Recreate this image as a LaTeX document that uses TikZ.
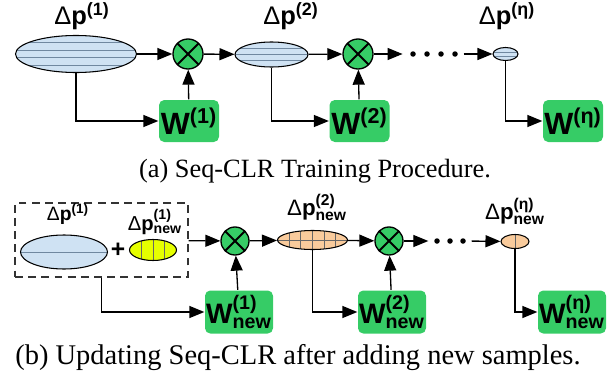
\documentclass[tikz,border=0pt]{standalone}
\usepackage{amsmath}
\usepackage{fontspec}
\setmainfont{Liberation Serif}
\setsansfont{Liberation Sans}
\usetikzlibrary{arrows.meta,shapes.geometric,calc}

\definecolor{blufill}{HTML}{CFE2F3}
\definecolor{stripe}{HTML}{7088A0}
\definecolor{wgreen}{HTML}{36CC66}
\definecolor{orfill}{HTML}{F9CB9C}
\definecolor{yelfill}{HTML}{E6FF00}

\begin{document}
\begin{tikzpicture}[>={Triangle[length=0.3cm,width=0.24cm]}, line width=0.75pt,
  every node/.style={font=\sffamily},
  blob/.style={ellipse, draw, line width=0.6pt, inner sep=0pt},
  hlines/.style={path picture={\foreach \k in {#1}
    \draw[stripe, line width=0.5pt]
      ($(path picture bounding box.north west)!\k!(path picture bounding box.south west)$) --
      ($(path picture bounding box.north east)!\k!(path picture bounding box.south east)$);}},
  vlines/.style={path picture={\foreach \k in {#1}
    \draw[black!60, line width=0.5pt]
      ($(path picture bounding box.north west)!\k!(path picture bounding box.north east)$) --
      ($(path picture bounding box.south west)!\k!(path picture bounding box.south east)$);}},
  grid/.style 2 args={path picture={\foreach \k in {#1}
    \draw[black!60, line width=0.5pt]
      ($(path picture bounding box.north west)!\k!(path picture bounding box.south west)$) --
      ($(path picture bounding box.north east)!\k!(path picture bounding box.south east)$);
    \foreach \k in {#2}
    \draw[black!60, line width=0.5pt]
      ($(path picture bounding box.north west)!\k!(path picture bounding box.north east)$) --
      ($(path picture bounding box.south west)!\k!(path picture bounding box.south east)$);}},
  mult/.style={circle, draw, fill=wgreen, minimum size=0.6cm, inner sep=0pt,
    path picture={\draw[line width=1.1pt] (path picture bounding box.north west) -- (path picture bounding box.south east)
      (path picture bounding box.north east) -- (path picture bounding box.south west);}},
  wbox/.style={rectangle, rounded corners=3pt, fill=wgreen, minimum width=1.2cm, minimum height=0.84cm,
    inner sep=0pt, font=\sffamily\bfseries\fontsize{17.5}{18}\selectfont},
  dotnode/.style={circle, fill, inner sep=0pt, minimum size=0.11cm}]
  \useasboundingbox (0,0) rectangle (12.18,-7.62);

  % training
  \node[blob, fill=blufill, hlines={0.2,0.4,0.6,0.8}, minimum width=2.42cm, minimum height=0.74cm] (P1) at (1.52,-1.08) {};
  \node[font=\sffamily\fontsize{14.5}{16}\selectfont] (LP1) at (1.64,-0.32) {Δ\textbf{p}$^{\textsf{\bfseries(1)}}$};
  \node[mult] (X1) at (3.76,-1.08) {};
  \node[wbox] (W1) at (3.78,-2.42) {W$^{\textsf{\bfseries(1)}}$};
  \node[blob, fill=blufill, hlines={0.25,0.5,0.75}, minimum width=1.46cm, minimum height=0.5cm] (P2) at (5.43,-1.09) {};
  \node[font=\sffamily\fontsize{14.5}{16}\selectfont] (LP2) at (5.82,-0.32) {Δ\textbf{p}$^{\textsf{\bfseries(2)}}$};
  \node[mult] (X2) at (7.16,-1.08) {};
  \node[wbox] (W2) at (7.19,-2.42) {W$^{\textsf{\bfseries(2)}}$};
  \foreach \i/\x in {1/8.26,2/8.54,3/8.82,4/9.10}
    \node[dotnode] (d\i) at (\x,-1.08) {};
  \node[blob, fill=blufill, hlines={0.35,0.65}, minimum width=0.5cm, minimum height=0.26cm] (Pn) at (10.11,-1.08) {};
  \node[font=\sffamily\fontsize{14.5}{16}\selectfont] (LPn) at (10.14,-0.32) {Δ\textbf{p}$^{\textsf{\bfseries(η)}}$};
  \node[wbox] (Wn) at (11.46,-2.42) {W$^{\textsf{\bfseries(η)}}$};

  \draw[->] (P1) -- (X1);
  \draw[->] (X1) -- (P2);
  \draw[->] (P2) -- (X2);
  \draw[->, shorten >=4pt] (X2) -- (d1);
  \draw[->, shorten <=3pt] (d4) -- (Pn);
  \draw[->] (W1) -- (X1);
  \draw[->] (W2) -- (X2);
  \draw[->] (P1) |- (W1);
  \draw[->] (P2) |- (W2);
  \draw[->] (Pn) |- (Wn);

  \node[font=\rmfamily\fontsize{15}{18}\selectfont] (capA) at (6.30,-3.42) {(a) Seq-CLR Training Procedure.};

  % updating
  \node[draw=black!80, dashed, dash pattern=on 4.5pt off 3pt, minimum width=3.46cm, minimum height=1.48cm] (Box) at (2.03,-4.80) {};
  \node[blob, fill=blufill, hlines={0.5}, minimum width=1.74cm, minimum height=0.68cm] (Q1) at (1.28,-5.04) {};
  \node[font=\sffamily\fontsize{11}{12}\selectfont] (LQ1) at (1.36,-4.28) {Δ\textbf{p}$^{\textsf{\bfseries(1)}}$};
  \node[font=\sffamily\bfseries\fontsize{14}{14}\selectfont] (plus) at (2.36,-5.00) {+};
  \node[blob, fill=yelfill, vlines={0.25,0.5,0.75}, minimum width=0.94cm, minimum height=0.42cm] (N1) at (3.06,-5.00) {};
  \node[font=\sffamily\fontsize{11.5}{12}\selectfont] (LN1) at (3.10,-4.44) {Δ\textbf{p}$^{\textsf{\bfseries(1)}}_{\textsf{\bfseries new}}$};
  \node[mult, minimum size=0.56cm] (X3) at (4.70,-4.82) {};
  \node[wbox, minimum width=1.36cm, minimum height=0.86cm, font=\sffamily\bfseries\fontsize{16}{17}\selectfont] (V1) at (4.78,-6.24) {W$^{\textsf{\bfseries(1)}}_{\textsf{\bfseries new}}$};
  \node[blob, fill=orfill, grid={0.5}{0.17,0.33,0.5,0.67,0.83}, minimum width=1.40cm, minimum height=0.38cm] (Q2) at (6.25,-4.80) {};
  \node[font=\sffamily\fontsize{12.7}{14}\selectfont] (LQ2) at (6.34,-4.14) {Δ\textbf{p}$^{\textsf{\bfseries(2)}}_{\textsf{\bfseries new}}$};
  \node[mult, minimum size=0.56cm] (X4) at (7.78,-4.82) {};
  \node[wbox, minimum width=1.36cm, minimum height=0.86cm, font=\sffamily\bfseries\fontsize{16}{17}\selectfont] (V2) at (7.84,-6.24) {W$^{\textsf{\bfseries(2)}}_{\textsf{\bfseries new}}$};
  \foreach \i/\x in {5/8.74,6/9.00,7/9.26}
    \node[dotnode] (d\i) at (\x,-4.82) {};
  \node[blob, fill=orfill, vlines={0.5}, minimum width=0.56cm, minimum height=0.28cm] (Qn) at (10.30,-4.83) {};
  \node[font=\sffamily\fontsize{12.7}{14}\selectfont] (LQn) at (10.30,-4.22) {Δ\textbf{p}$^{\textsf{\bfseries(η)}}_{\textsf{\bfseries new}}$};
  \node[wbox, minimum width=1.36cm, minimum height=0.86cm, font=\sffamily\bfseries\fontsize{16}{17}\selectfont] (Vn) at (11.44,-6.24) {W$^{\textsf{\bfseries(η)}}_{\textsf{\bfseries new}}$};

  \draw[->] (Box) -- (X3);
  \draw[->] (X3) -- (Q2);
  \draw[->] (Q2) -- (X4);
  \draw[->, shorten >=3pt] (X4) -- (d5);
  \draw[->, shorten <=3pt] (d7) -- (Qn);
  \draw[->] (V1) -- (X3);
  \draw[->] (V2) -- (X4);
  \draw[->] (Box) |- (V1);
  \draw[->] (Q2) |- (V2);
  \draw[->] (Qn) |- (Vn);

  \node[font=\rmfamily\fontsize{16.2}{18}\selectfont] (capB) at (5.96,-7.16) {(b) Updating Seq-CLR after adding new samples.};
\end{tikzpicture}
\end{document}
